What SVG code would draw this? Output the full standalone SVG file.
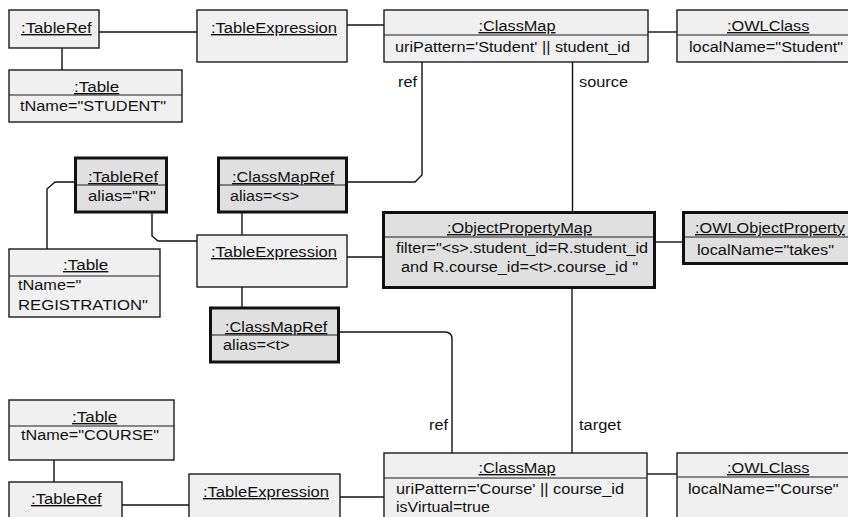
<svg xmlns="http://www.w3.org/2000/svg" width="848" height="517" viewBox="0 0 848 517">
  <style>
    .box { fill: #f0f0f0; stroke: #1a1a1a; stroke-width: 1.4; }
    .hbox { fill: #e0e0e0; stroke: #111111; stroke-width: 3; }
    .sep { stroke: #1a1a1a; stroke-width: 1.2; }
    text { font-family: "Liberation Sans", Arial, sans-serif; font-size: 14px; fill: #111111; }
    .title { text-decoration: underline; }
    .conn path { fill: none; stroke: #111111; stroke-width: 1.4; }
  </style>
  <rect width="848" height="517" fill="#ffffff"/>

  <!-- connectors -->
  <g id="connectors" class="conn">
    <path d="M99,32 H197"/>
    <path d="M62,48 V70"/>
    <path d="M347,25 H384"/>
    <path d="M648,32 H677"/>
    <path d="M422,62 V175 L415,182 H347"/>
    <path d="M572.5,62 V212"/>
    <path d="M75,182 H55 L47,189 V249"/>
    <path d="M152,212 V236 L158,241 H197"/>
    <path d="M242,212 V235"/>
    <path d="M347,257 H383"/>
    <path d="M655,242 H683"/>
    <path d="M242,287 V308"/>
    <path d="M339,332 H445 Q452,332 452,339 V453"/>
    <path d="M572,288 V453"/>
    <path d="M54,460 V482"/>
    <path d="M122,505 H189"/>
    <path d="M340,497 H384"/>
    <path d="M647,474 H677"/>
    <text x="417" y="87" text-anchor="end" textLength="19" lengthAdjust="spacingAndGlyphs">ref</text>
    <text x="579" y="87" textLength="49" lengthAdjust="spacingAndGlyphs">source</text>
    <text x="448" y="430" text-anchor="end" textLength="19" lengthAdjust="spacingAndGlyphs">ref</text>
    <text x="579" y="430" textLength="42" lengthAdjust="spacingAndGlyphs">target</text>
  </g>

  <!-- student side -->
  <g id="tableref-student">
    <rect class="box" x="9" y="10" width="90" height="38"/>
    <text class="title" x="21" y="33" textLength="70.7" lengthAdjust="spacingAndGlyphs">:TableRef</text>
  </g>
  <g id="table-student">
    <rect class="box" x="9" y="70" width="173" height="52"/>
    <line class="sep" x1="9" y1="95" x2="182" y2="95"/>
    <text class="title" x="74" y="92" textLength="45.3" lengthAdjust="spacingAndGlyphs">:Table</text>
    <text x="20" y="111" textLength="146" lengthAdjust="spacingAndGlyphs">tName="STUDENT"</text>
  </g>
  <g id="tableexpr-student">
    <rect class="box" x="197" y="10" width="150" height="52"/>
    <text class="title" x="211" y="33" textLength="126" lengthAdjust="spacingAndGlyphs">:TableExpression</text>
  </g>
  <g id="classmap-student">
    <rect class="box" x="384" y="10" width="264" height="52"/>
    <line class="sep" x1="384" y1="35" x2="648" y2="35"/>
    <text class="title" x="478.5" y="31" textLength="77" lengthAdjust="spacingAndGlyphs">:ClassMap</text>
    <text x="395" y="52" textLength="235" lengthAdjust="spacingAndGlyphs">uriPattern='Student' || student_id</text>
  </g>
  <g id="owlclass-student">
    <rect class="box" x="677" y="10" width="182" height="52"/>
    <line class="sep" x1="677" y1="35" x2="859" y2="35"/>
    <text class="title" x="727" y="31" textLength="82.4" lengthAdjust="spacingAndGlyphs">:OWLClass</text>
    <text x="689" y="52" textLength="154" lengthAdjust="spacingAndGlyphs">localName="Student"</text>
  </g>

  <!-- property mapping -->
  <g id="tableref-r">
    <rect class="hbox" x="75.5" y="158" width="91" height="54"/>
    <line class="sep" x1="77" y1="185" x2="165" y2="185"/>
    <text class="title" x="88" y="182" textLength="70" lengthAdjust="spacingAndGlyphs">:TableRef</text>
    <text x="88" y="201" textLength="68" lengthAdjust="spacingAndGlyphs">alias="R"</text>
  </g>
  <g id="classmapref-s">
    <rect class="hbox" x="218.5" y="158" width="128" height="54"/>
    <line class="sep" x1="220" y1="185" x2="345" y2="185"/>
    <text class="title" x="232" y="182" textLength="102.3" lengthAdjust="spacingAndGlyphs">:ClassMapRef</text>
    <text x="230" y="201" textLength="69" lengthAdjust="spacingAndGlyphs">alias=&lt;s&gt;</text>
  </g>
  <g id="table-registration">
    <rect class="box" x="9" y="249" width="151" height="68"/>
    <line class="sep" x1="9" y1="276" x2="160" y2="276"/>
    <text class="title" x="63" y="270" textLength="45.3" lengthAdjust="spacingAndGlyphs">:Table</text>
    <text x="18" y="290" textLength="63.3" lengthAdjust="spacingAndGlyphs">tName="</text>
    <text x="18" y="310" textLength="130" lengthAdjust="spacingAndGlyphs">REGISTRATION"</text>
  </g>
  <g id="tableexpr-mid">
    <rect class="box" x="197" y="235" width="150" height="52"/>
    <text class="title" x="211" y="257" textLength="126" lengthAdjust="spacingAndGlyphs">:TableExpression</text>
  </g>
  <g id="objectpropertymap">
    <rect class="hbox" x="383.5" y="212.5" width="271" height="75"/>
    <line class="sep" x1="385" y1="237" x2="653" y2="237"/>
    <text class="title" x="447" y="233" textLength="145" lengthAdjust="spacingAndGlyphs">:ObjectPropertyMap</text>
    <text x="396" y="253" textLength="252" lengthAdjust="spacingAndGlyphs">filter="&lt;s&gt;.student_id=R.student_id</text>
    <text x="401" y="272" textLength="237" lengthAdjust="spacingAndGlyphs">and R.course_id=&lt;t&gt;.course_id "</text>
  </g>
  <g id="owlobjectproperty">
    <rect class="hbox" x="683.5" y="212.5" width="180" height="51"/>
    <line class="sep" x1="685" y1="237" x2="862" y2="237"/>
    <text class="title" x="695" y="233" textLength="150" lengthAdjust="spacingAndGlyphs">:OWLObjectProperty</text>
    <text x="697" y="255" textLength="137" lengthAdjust="spacingAndGlyphs">localName="takes"</text>
  </g>
  <g id="classmapref-t">
    <rect class="hbox" x="210.5" y="308" width="128" height="54"/>
    <line class="sep" x1="212" y1="335" x2="337" y2="335"/>
    <text class="title" x="225" y="332" textLength="102.3" lengthAdjust="spacingAndGlyphs">:ClassMapRef</text>
    <text x="223" y="350" textLength="66.6" lengthAdjust="spacingAndGlyphs">alias=&lt;t&gt;</text>
  </g>

  <!-- course side -->
  <g id="table-course">
    <rect class="box" x="9" y="400" width="165" height="60"/>
    <line class="sep" x1="9" y1="426" x2="174" y2="426"/>
    <text class="title" x="72" y="422" textLength="45.3" lengthAdjust="spacingAndGlyphs">:Table</text>
    <text x="21" y="440" textLength="138" lengthAdjust="spacingAndGlyphs">tName="COURSE"</text>
  </g>
  <g id="tableref-course">
    <rect class="box" x="9" y="482" width="113" height="50"/>
    <text class="title" x="31" y="504" textLength="70.7" lengthAdjust="spacingAndGlyphs">:TableRef</text>
  </g>
  <g id="tableexpr-course">
    <rect class="box" x="189" y="474" width="151" height="60"/>
    <text class="title" x="203" y="497" textLength="126" lengthAdjust="spacingAndGlyphs">:TableExpression</text>
  </g>
  <g id="classmap-course">
    <rect class="box" x="384" y="453" width="263" height="80"/>
    <line class="sep" x1="384" y1="478" x2="647" y2="478"/>
    <text class="title" x="478.5" y="473" textLength="77" lengthAdjust="spacingAndGlyphs">:ClassMap</text>
    <text x="396" y="494" textLength="228" lengthAdjust="spacingAndGlyphs">uriPattern='Course' || course_id</text>
    <text x="396" y="512" textLength="94" lengthAdjust="spacingAndGlyphs">isVirtual=true</text>
  </g>
  <g id="owlclass-course">
    <rect class="box" x="677" y="453" width="182" height="80"/>
    <line class="sep" x1="677" y1="477" x2="859" y2="477"/>
    <text class="title" x="727" y="473" textLength="82.4" lengthAdjust="spacingAndGlyphs">:OWLClass</text>
    <text x="688" y="494" textLength="150.6" lengthAdjust="spacingAndGlyphs">localName="Course"</text>
  </g>
</svg>
